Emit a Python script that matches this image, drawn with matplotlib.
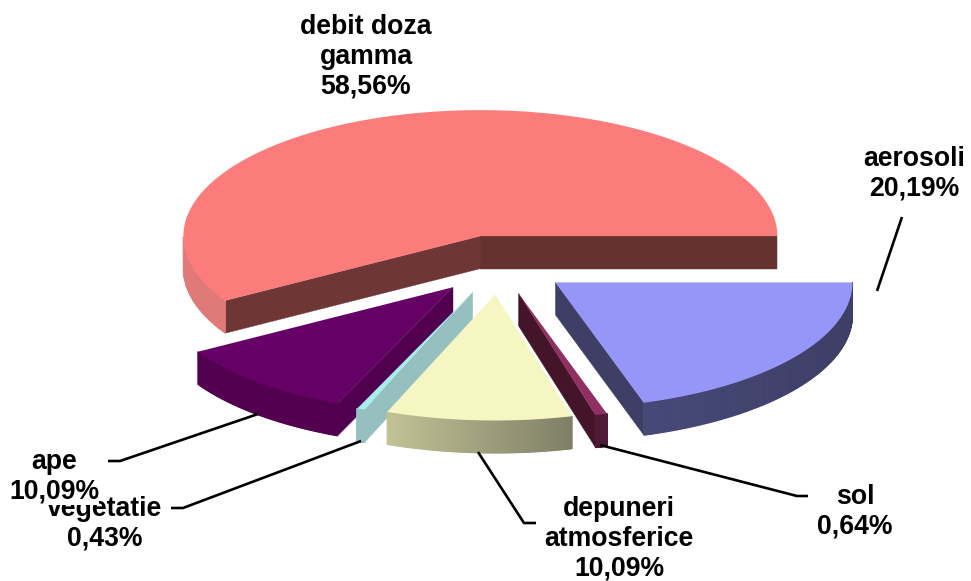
#!/usr/bin/env python
"""Exploded pseudo-3D pie of monitoring shares."""

import matplotlib

matplotlib.use("Agg")
import matplotlib.pyplot as plt
import numpy as np
from matplotlib.colors import to_rgb
from matplotlib.patches import Polygon

# clockwise from the east, debit doza runs counter-clockwise from there
names = ["debit doza\ngamma", "aerosoli", "sol", "depuneri\natmosferice", "vegetatie", "ape"]
shares = [58.56, 20.19, 0.64, 10.09, 0.43, 10.09]
share_labels = ["58,56%", "20,19%", "0,64%", "10,09%", "0,43%", "10,09%"]

top_colors = ["#fc7c7c", "#9696f8", "#8f2f62", "#f6f6c2", "#a8eeee", "#660066"]
rim_colors = [
    ("#e07a78", "#e07a78"),
    ("#464978", "#3e3e66"),
    ("#4f1a38", "#4f1a38"),
    ("#c2c296", "#7f7f66"),
    ("#96bfbf", "#96bfbf"),
    ("#52004f", "#52004f"),
]
# face at the start angle, face at the end angle
cut_colors = [
    ("#66322f", "#6f3636"),
    ("#3e3e66", "#3e3e66"),
    ("#441428", "#441428"),
    ("#8c8c70", "#8c8c70"),
    ("#96bfbf", "#96bfbf"),
    ("#50004f", "#50004f"),
]
draw_order = [0, 5, 4, 1, 2, 3]

CENTER = (499.0, 264.8)
RX = 297.0
RY = 126.0
DEPTH = 32.5
EXPLODE = 0.236

plt.rcParams["font.family"] = ["Liberation Sans", "DejaVu Sans"]


def wedge_spans():
    # debit doza ends at the east going counter-clockwise, the others follow clockwise
    spans = [(0.0, np.deg2rad(shares[0] * 3.6))]
    start = 0.0
    for share in shares[1:]:
        end = start - np.deg2rad(share * 3.6)
        spans.append((start, end))
        start = end
    return spans


def cut_faces_viewer(angle, mid):
    # outward normal of the cut must point towards the front
    return -np.sign(mid - angle) * np.cos(angle) < 0


def draw_wedge(ax, idx, span):
    lo, hi = span
    mid = (lo + hi) / 2
    apex_x = CENTER[0] + EXPLODE * RX * np.cos(mid)
    apex_y = CENTER[1] - EXPLODE * RY * np.sin(mid)
    theta = np.linspace(lo, hi, 160)
    x = apex_x + RX * np.cos(theta)
    y = apex_y - RY * np.sin(theta)

    for end, color in ((0, cut_colors[idx][0]), (-1, cut_colors[idx][1])):
        if not cut_faces_viewer(theta[end], mid):
            continue
        ax.add_patch(
            Polygon(
                [
                    (apex_x, apex_y),
                    (x[end], y[end]),
                    (x[end], y[end] + DEPTH),
                    (apex_x, apex_y + DEPTH),
                ],
                closed=True,
                facecolor=color,
                edgecolor=color,
                lw=0.3,
            )
        )

    left, right = (to_rgb(c) for c in rim_colors[idx])
    span_x = max(x.max() - x.min(), 1.0)
    for i in range(len(theta) - 1):
        # back of the rim is hidden
        if np.sin(0.5 * (theta[i] + theta[i + 1])) > 0:
            continue
        frac = (0.5 * (x[i] + x[i + 1]) - x.min()) / span_x
        color = tuple(a + (b - a) * frac for a, b in zip(left, right))
        ax.add_patch(
            Polygon(
                [
                    (x[i], y[i]),
                    (x[i + 1], y[i + 1]),
                    (x[i + 1], y[i + 1] + DEPTH),
                    (x[i], y[i] + DEPTH),
                ],
                closed=True,
                facecolor=color,
                edgecolor=color,
                lw=0.8,
            )
        )

    ax.add_patch(
        Polygon(
            np.column_stack((np.r_[apex_x, x], np.r_[apex_y, y])),
            closed=True,
            facecolor=top_colors[idx],
            edgecolor="none",
        )
    )


def main():
    fig = plt.figure(figsize=(9.71, 5.81), dpi=100)
    ax = fig.add_axes([0, 0, 1, 1])
    ax.set_xlim(0, 971)
    ax.set_ylim(581, 0)
    ax.axis("off")

    spans = wedge_spans()
    for idx in draw_order:
        draw_wedge(ax, idx, spans[idx])

    leaders = [
        ([902, 877], [217, 291]),
        ([808, 797, 600], [496, 496, 445]),
        ([536, 524, 478], [523, 523, 452]),
        ([108, 120, 258], [461, 461, 414]),
        ([171, 183, 361], [508, 508, 441]),
    ]
    for xs, ys in leaders:
        ax.plot(xs, ys, color="black", lw=1.9, solid_capstyle="butt", zorder=3)

    label_pos = [(366, 57), (914, 174), (855, 512), (619, 539), (105, 524), (54, 477)]
    for i, (px, py) in enumerate(label_pos):
        ax.text(
            px,
            py,
            f"{names[i]}\n{share_labels[i]}",
            ha="center",
            va="center",
            ma="center",
            fontsize=19.2,
            fontweight="bold",
            linespacing=1.195,
            color="black",
            zorder=4 + i,
            bbox=dict(facecolor="white", edgecolor="none", pad=0) if names[i] == "ape" else None,
        )

    fig.savefig("out.png", dpi=100)


if __name__ == "__main__":
    main()
